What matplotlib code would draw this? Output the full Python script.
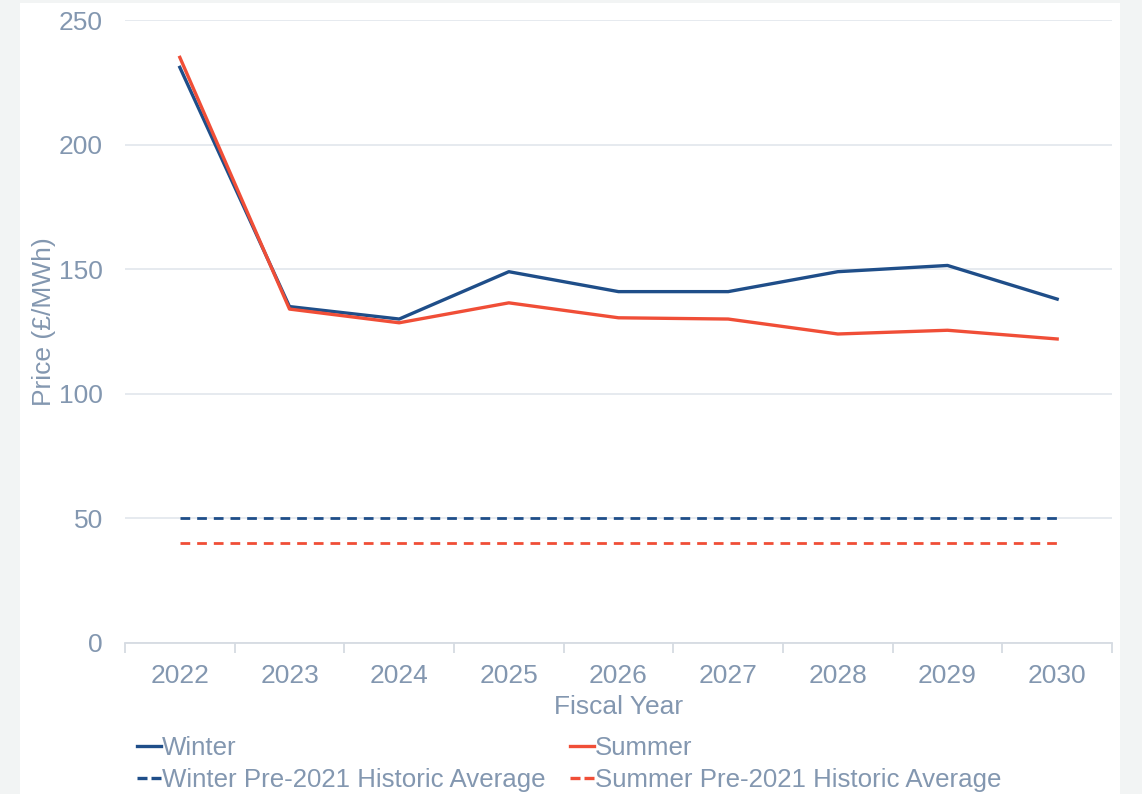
import matplotlib
matplotlib.use("Agg")
import matplotlib.pyplot as plt
from matplotlib.patches import Rectangle
from matplotlib.lines import Line2D

years = ["2022", "2023", "2024", "2025", "2026", "2027", "2028", "2029", "2030"]
winter = [231, 135, 130, 149, 141, 141, 149, 151.5, 138]
summer = [235, 134, 128.5, 136.5, 130.5, 130, 124, 125.5, 122]
winter_avg = [50] * len(years)
summer_avg = [40] * len(years)

WINTER_C = "#1f4e89"
SUMMER_C = "#f04e37"
TEXT_C = "#8397b0"
GRID_C = "#e4e8ee"

plt.rcParams["font.family"] = ["Liberation Sans", "DejaVu Sans"]

W, H = 1142, 794
fig = plt.figure(figsize=(W / 100, H / 100), dpi=100)
fig.patch.set_facecolor("#f2f4f4")
fig.patches.append(Rectangle((20 / W, 0), 1100 / W, 1 - 3 / H, transform=fig.transFigure,
                             facecolor="white", edgecolor="none", zorder=-10))

ax = fig.add_axes([125 / W, 1 - 643 / H, (1112 - 125) / W, (643 - 20) / H])
ax.set_facecolor("none")
ax.set_zorder(1)
x = list(range(len(years)))
ax.plot(x, winter, color=WINTER_C, lw=2.4, solid_joinstyle="round", zorder=3)
ax.plot(x, summer, color=SUMMER_C, lw=2.4, solid_joinstyle="round", zorder=3)
ax.plot(x, winter_avg, color=WINTER_C, lw=2.0, dashes=(3.5, 2.5), zorder=3)
ax.plot(x, summer_avg, color=SUMMER_C, lw=2.0, dashes=(3.5, 2.5), zorder=3)

ax.set_xlim(-0.5, len(years) - 0.5)
ax.set_ylim(0, 250)
ax.set_yticks([0, 50, 100, 150, 200, 250])
ax.grid(axis="y", color=GRID_C, lw=1.3, zorder=1)
ax.set_axisbelow(True)
for s in ["top", "right", "left"]:
    ax.spines[s].set_visible(False)
ax.spines["bottom"].set_color("#d6dbe2")
ax.spines["bottom"].set_linewidth(1.3)

ax.set_xticks([i - 0.5 for i in range(len(years) + 1)])
ax.set_xticklabels([])
ax.set_xticks(x, minor=True)
ax.set_xticklabels(years, minor=True)
ax.tick_params(axis="x", which="major", length=7, width=1.3, color="#d6dbe2")
ax.tick_params(axis="x", which="minor", length=0, pad=15, labelsize=19, labelcolor=TEXT_C)
ax.tick_params(axis="y", length=0, pad=16, labelsize=19, labelcolor=TEXT_C)

ax.set_xlabel("Fiscal Year", fontsize=19, color=TEXT_C, labelpad=5)
fig.text(44 / W, 1 - 322 / H, "Price (£/MWh)", rotation=90, fontsize=19, color=TEXT_C,
         ha="center", va="center")

h_w = Line2D([], [], color=WINTER_C, lw=2.4)
h_wa = Line2D([], [], color=WINTER_C, lw=2.4, dashes=(3.0, 1.2))
h_s = Line2D([], [], color=SUMMER_C, lw=2.4)
h_sa = Line2D([], [], color=SUMMER_C, lw=2.4, dashes=(3.0, 1.2))

common = dict(frameon=False, fontsize=18.6, labelcolor=TEXT_C, handlelength=0.92,
              handletextpad=0.05, labelspacing=0.32, borderpad=0, borderaxespad=0,
              loc="upper left")
leg1 = fig.legend([h_w, h_wa], ["Winter", "Winter Pre-2021 Historic Average"],
                  bbox_to_anchor=(137 / W, 1 - 736 / H), **common)
leg2 = fig.legend([h_s, h_sa], ["Summer", "Summer Pre-2021 Historic Average"],
                  bbox_to_anchor=(570 / W, 1 - 736 / H), **common)

fig.savefig("out.png", dpi=100, facecolor=fig.get_facecolor())
